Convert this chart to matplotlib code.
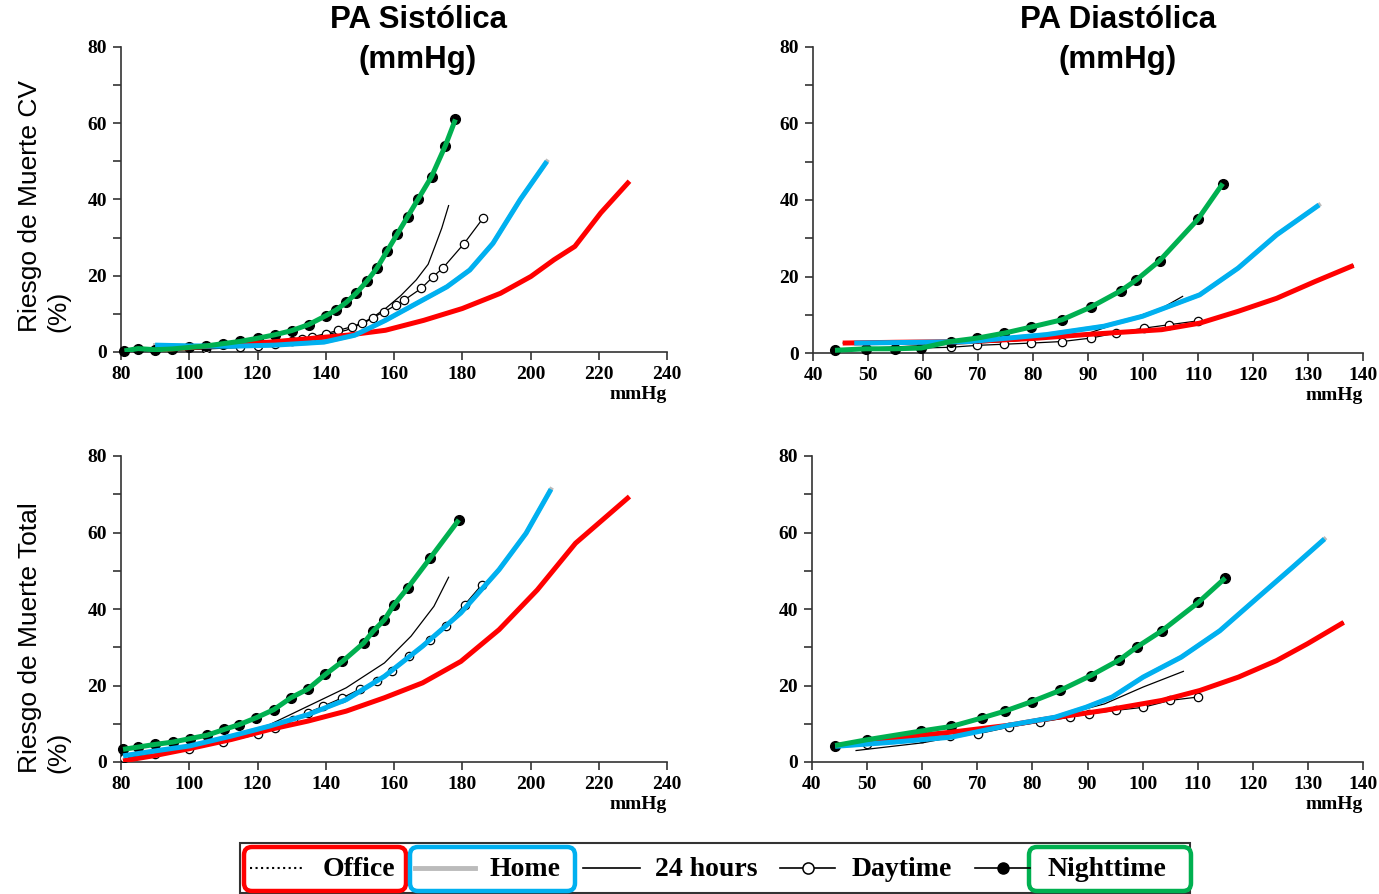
import matplotlib
matplotlib.use('Agg')
import matplotlib.pyplot as plt
from matplotlib.patches import Rectangle, FancyBboxPatch
from matplotlib.ticker import MultipleLocator

# ---- data (x in mmHg, y in %) ----
# Systolic, CV death
sys_cv_office_x = [91.8, 105, 123.8, 146.2, 157.5, 168.7, 180, 191.2, 200.1, 206.9, 213, 220.6, 229]
sys_cv_office_y = [0.6, 1.5, 2.6, 4.4, 5.7, 8.3, 11.4, 15.4, 19.8, 24.2, 27.7, 36.5, 44.8]
sys_cv_home_x = [90, 100, 112, 125, 139.5, 148.5, 157.5, 166.5, 175.5, 182.2, 189, 197, 204.8]
sys_cv_home_y = [1.8, 1.6, 1.5, 1.8, 2.6, 4.4, 8.3, 12.7, 17.1, 21.5, 28.5, 40, 50]
sys_cv_24h_x = [82, 90, 100, 110, 120, 130, 140, 146, 152, 157.5, 162, 166.5, 170, 172, 174, 176]
sys_cv_24h_y = [0.3, 0.6, 1.0, 1.6, 2.3, 3.2, 4.5, 5.7, 8, 11.4, 14.8, 18.9, 23, 27.7, 32.5, 38.4]
sys_cv_day_x = [85, 95, 105, 115, 120, 125, 130, 133, 136, 140, 143.7, 147.6, 150.5, 153.7, 157,
                160.6, 163, 168, 171.5, 174.3, 180.5, 186.1]
sys_cv_day_y = [0.3, 0.5, 0.8, 1.2, 1.6, 2.2, 2.8, 3.3, 4, 4.8, 5.7, 6.6, 7.6, 9, 10.5,
                12.3, 13.6, 16.7, 19.8, 22, 28.4, 35.1]
sys_cv_night_x = [81, 85, 90, 95, 100, 105, 110, 115, 120, 125, 130, 135, 140, 143, 146, 149,
                  152, 155, 158, 161, 164, 167, 171, 175, 178]
sys_cv_night_y = [0.3, 0.9, 0.6, 0.8, 1.2, 1.6, 2.2, 2.8, 3.6, 4.5, 5.6, 7.2, 9.5, 11, 13, 15.5,
                  18.5, 22, 26.5, 31, 35.5, 40, 46, 54, 61]

# Diastolic, CV death
dia_cv_office_x = [45.4, 55, 68.5, 80, 89.4, 103.4, 110.3, 117.3, 124.3, 131.3, 138.3]
dia_cv_office_y = [2.6, 2.8, 3.0, 3.8, 4.8, 6.1, 7.8, 10.9, 14.3, 18.7, 22.9]
dia_cv_home_x = [47.5, 60, 68.5, 82.4, 92.9, 99.9, 110.3, 117.3, 124.3, 132]
dia_cv_home_y = [2.6, 2.8, 3.0, 4.8, 7.0, 9.6, 15.2, 22.2, 30.9, 38.7]
dia_cv_24h_x = [44, 55, 65, 75.5, 82, 89.4, 96.4, 103.4, 107.2]
dia_cv_24h_y = [0.9, 1.6, 2.3, 3.0, 3.8, 4.8, 8.3, 11.7, 14.8]
dia_cv_day_x = [44, 49.6, 54.9, 59.7, 65, 69.9, 74.8, 79.7, 85.3, 90.5, 95, 100.2, 104.8, 110]
dia_cv_day_y = [0.7, 0.9, 0.9, 1.3, 1.5, 2.0, 2.3, 2.6, 3.0, 3.9, 5.2, 6.5, 7.4, 8.4]
dia_cv_night_x = [44, 49.6, 54.9, 59.7, 65, 69.9, 74.8, 79.7, 85.3, 90.5, 96, 98.8, 103, 110, 114.5]
dia_cv_night_y = [0.7, 1.1, 1.1, 1.3, 3.0, 3.9, 5.2, 6.8, 8.7, 12.0, 16.3, 19.1, 24.1, 35.0, 44.3]

# Systolic, total death
sys_tot_office_x = [80.6, 90, 100.1, 112.4, 123.6, 134.8, 146, 157.2, 168.4, 179.6, 190.8, 202, 213.2, 229]
sys_tot_office_y = [0.3, 1.7, 3.5, 5.9, 8.5, 10.7, 13.3, 16.8, 20.7, 26.3, 34.6, 45, 57.2, 69.4]
sys_tot_home_x = [80.6, 90, 100.1, 112.4, 123.6, 134.8, 146, 157.2, 168.4, 179.6, 190.8, 198.7, 206]
sys_tot_home_y = [1.6, 2.9, 4.2, 6.8, 9.4, 12.4, 16.3, 22.4, 30.3, 39, 50.3, 59.8, 71.3]
sys_tot_24h_x = [81, 100.1, 112.4, 123.6, 134.8, 146, 157.2, 165, 171.7, 176]
sys_tot_24h_y = [1.1, 3.7, 6.3, 9.8, 14.6, 19.4, 25.9, 32.9, 40.7, 48.3]
sys_tot_day_x = [81, 90, 100, 110, 120, 125, 130.3, 134.8, 139.3, 144.9, 149.9, 155, 159.4,
                 164.5, 170.6, 175.1, 180.7, 185.7]
sys_tot_day_y = [1.0, 2.2, 3.5, 5.2, 7.2, 9.0, 11.1, 12.9, 14.6, 16.8, 19, 21.1, 23.7,
                 27.7, 32, 35.5, 41.1, 46.3]
sys_tot_night_x = [80.6, 85, 90, 95.1, 100.1, 105.2, 110.2, 114.7, 119.7, 124.8, 129.8, 134.8,
                   139.9, 144.9, 151.1, 153.9, 157.2, 160, 164, 170.6, 179]
sys_tot_night_y = [3.3, 3.9, 4.6, 5.2, 6.1, 7.0, 8.5, 9.8, 11.6, 13.7, 16.8, 19.1,
                   22.9, 26.3, 31.1, 34.2, 37.2, 41.1, 45.5, 53.3, 63.3]

# Diastolic, total death
dia_tot_office_x = [44.5, 54.9, 65.3, 75.7, 82.7, 93.1, 103.5, 110.4, 117.4, 124.3, 129.9, 136.5]
dia_tot_office_y = [4.3, 6.3, 7.8, 9.6, 11.3, 13.5, 16.1, 18.7, 22.2, 26.5, 30.9, 36.5]
dia_tot_home_x = [44.2, 54.9, 65.3, 75.7, 84.1, 89.7, 94.5, 100.1, 107, 114, 120.9, 127.2, 133]
dia_tot_home_y = [4.1, 5.2, 6.5, 9.6, 11.7, 14.3, 17.0, 22.2, 27.4, 34.3, 43, 50.9, 58.3]
dia_tot_24h_x = [48, 60, 70.2, 82.7, 93.1, 100.1, 107.4]
dia_tot_24h_y = [3.0, 5.0, 7.8, 11.3, 15.2, 19.6, 23.7]
dia_tot_day_x = [49.9, 60, 65, 70.2, 75.7, 81.3, 86.8, 90.3, 95.2, 100.1, 105, 110.1]
dia_tot_day_y = [4.8, 6.3, 6.9, 7.4, 9.1, 10.4, 11.7, 12.6, 13.5, 14.3, 16.1, 17.0]
dia_tot_night_x = [44.2, 49.9, 59.8, 65.3, 70.8, 75, 79.9, 85, 90.6, 95.8, 98.9, 103.5, 110.1, 115]
dia_tot_night_y = [4.3, 5.8, 8.1, 9.3, 11.5, 13.3, 15.8, 18.7, 22.6, 26.7, 30, 34.3, 41.7, 48.1]

legend_labels = ['Office', 'Home', '24 hours', 'Daytime', 'Nighttime']

RED = '#ff0000'
BLUE = '#00b0f0'
GREEN = '#00b050'
SERIF = 'Liberation Serif'
SANS = 'Liberation Sans'

W, H = 1379, 894
fig = plt.figure(figsize=(W / 100, H / 100), dpi=100)


def add_axes_px(left, right, top, bottom):
    return fig.add_axes([left / W, 1 - bottom / H, (right - left) / W, (bottom - top) / H])


def draw_panel(ax, office, home, h24, day, night, xlim, xstep):
    # underlying black/grey series
    ax.plot(*office, ls=':', color='black', lw=1.2, zorder=2)
    ax.plot(*home, color='#bbbbbb', lw=3, zorder=2)
    ax.plot(*h24, color='black', lw=0.9, zorder=3)
    ax.plot(*day, color='black', lw=0.9, marker='o', ms=6, mfc='white', mec='black',
            mew=0.9, zorder=3)
    ax.plot(*night, color='black', lw=0.9, marker='o', ms=7, mfc='black', mec='black',
            zorder=3, clip_on=False)
    # coloured highlight lines
    kw = dict(lw=3.6, solid_capstyle='butt', solid_joinstyle='round')
    ax.plot(*office, color=RED, zorder=4, **kw)
    ax.plot(*home, color=BLUE, zorder=4, **kw)
    ax.plot(*night, color=GREEN, zorder=5, **kw)

    ax.set_xlim(*xlim)
    ax.set_ylim(0, 80)
    ax.xaxis.set_major_locator(MultipleLocator(xstep))
    ax.yaxis.set_major_locator(MultipleLocator(20))
    ax.yaxis.set_minor_locator(MultipleLocator(10))
    for s in ['top', 'right']:
        ax.spines[s].set_visible(False)
    for s in ['left', 'bottom']:
        ax.spines[s].set_linewidth(1.2)
        ax.spines[s].set_color('#333333')
    ax.tick_params(which='both', direction='out', length=6, width=1.2, color='#333333')
    ax.tick_params(labelsize=14, pad=4)
    for lab in ax.get_xticklabels() + ax.get_yticklabels():
        lab.set_fontfamily(SERIF)
        lab.set_fontweight('bold')
    ax.text(1.0, -0.112, 'mmHg', transform=ax.transAxes, ha='right', va='top',
            fontsize=14, fontweight='bold', family=SERIF)


ax1 = add_axes_px(121, 667, 47, 352)
draw_panel(ax1, (sys_cv_office_x, sys_cv_office_y), (sys_cv_home_x, sys_cv_home_y),
           (sys_cv_24h_x, sys_cv_24h_y), (sys_cv_day_x, sys_cv_day_y),
           (sys_cv_night_x, sys_cv_night_y), (80, 240), 20)

ax2 = add_axes_px(813, 1363, 47, 353)
draw_panel(ax2, (dia_cv_office_x, dia_cv_office_y), (dia_cv_home_x, dia_cv_home_y),
           (dia_cv_24h_x, dia_cv_24h_y), (dia_cv_day_x, dia_cv_day_y),
           (dia_cv_night_x, dia_cv_night_y), (40, 140), 10)

ax3 = add_axes_px(121, 667, 456, 762)
draw_panel(ax3, (sys_tot_office_x, sys_tot_office_y), (sys_tot_home_x, sys_tot_home_y),
           (sys_tot_24h_x, sys_tot_24h_y), (sys_tot_day_x, sys_tot_day_y),
           (sys_tot_night_x, sys_tot_night_y), (80, 240), 20)

ax4 = add_axes_px(812, 1363, 456, 762)
draw_panel(ax4, (dia_tot_office_x, dia_tot_office_y), (dia_tot_home_x, dia_tot_home_y),
           (dia_tot_24h_x, dia_tot_24h_y), (dia_tot_day_x, dia_tot_day_y),
           (dia_tot_night_x, dia_tot_night_y), (40, 140), 10)

# column titles and row labels
fig.text(418 / W, 1 - 40 / H, 'PA Sistólica\n(mmHg)', ha='center', va='center',
         fontsize=22.5, fontweight='bold', family=SANS, linespacing=1.4)
fig.text(1118 / W, 1 - 40 / H, 'PA Diastólica\n(mmHg)', ha='center', va='center',
         fontsize=22.5, fontweight='bold', family=SANS, linespacing=1.4)
fig.text(44 / W, 1 - 332 / H, 'Riesgo de Muerte CV\n(%)', rotation=90, ha='center',
         va='bottom', multialignment='left', fontsize=19, family=SANS, linespacing=1.25)
fig.text(44 / W, 1 - 773 / H, 'Riesgo de Muerte Total\n(%)', rotation=90, ha='center',
         va='bottom', multialignment='left', fontsize=19, family=SANS, linespacing=1.25)

# legend drawn in pixel space
lg = fig.add_axes([0, 0, 1, 1], zorder=10)
lg.set_xlim(0, W)
lg.set_ylim(H, 0)
lg.axis('off')
lg.add_patch(Rectangle((240, 843), 950, 50, fill=False, ec='#333333', lw=1.5))
for x0, w, c in [(244, 162, RED), (410, 165, BLUE), (1029, 162, GREEN)]:
    lg.add_patch(FancyBboxPatch((x0, 847), w, 44, boxstyle='round,pad=0,rounding_size=8',
                                fill=False, ec=c, lw=3.2))
ly = 868
lg.plot([250, 305], [ly, ly], ls=':', color='black', lw=1.5)
lg.plot([415, 475], [ly, ly], color='#bbbbbb', lw=3.5)
lg.plot([583, 640], [ly, ly], color='black', lw=1.2)
lg.plot([780, 835], [ly, ly], color='black', lw=1.2)
lg.plot([808], [ly], marker='o', ms=8, mfc='white', mec='black', mew=1.1)
lg.plot([975, 1030], [ly, ly], color='black', lw=1.2)
lg.plot([1003], [ly], marker='o', ms=8, mfc='black', mec='black')
for tx, lab in zip([323, 490, 655, 852, 1047], legend_labels):
    lg.text(tx, ly + 1, lab, ha='left', va='center', fontsize=20, fontweight='bold', family=SERIF)

fig.savefig('out.png', dpi=100)
